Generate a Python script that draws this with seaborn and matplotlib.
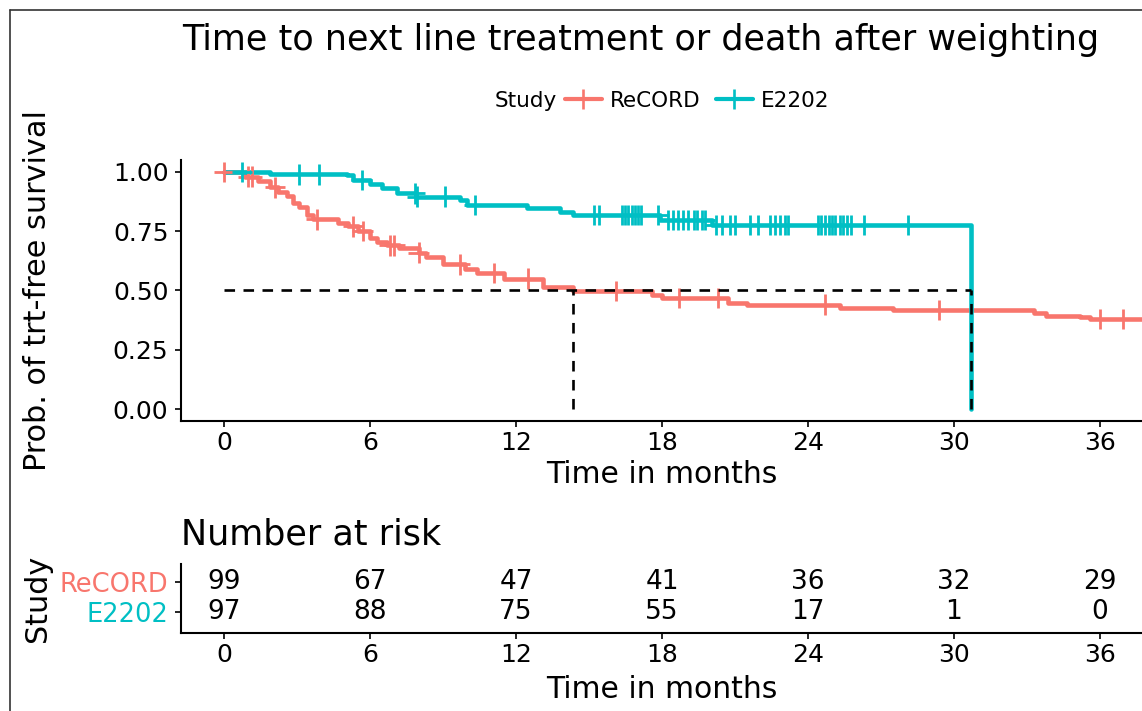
import numpy as np
import pandas as pd
import seaborn as sns
import matplotlib.pyplot as plt
from matplotlib.lines import Line2D

RED = "#F8766D"
CYAN = "#00BFC4"

# Step curves (time in months, survival after the step)
record_time = [0, 0.86, 1.4, 1.9, 2.2, 2.6, 2.85, 3.1, 3.4, 3.65, 4.7, 5.1, 5.5, 6.0, 6.3, 6.7,
               7.2, 8.0, 8.3, 9.0, 9.9, 10.4, 11.5, 13.1, 14.35, 17.6, 18.0, 20.7, 21.5, 25.3,
               27.5, 33.3, 33.8, 35.2, 35.6, 38.0]
record_surv = [1.00, 0.98, 0.96, 0.935, 0.915, 0.90, 0.87, 0.85, 0.82, 0.80, 0.785, 0.77, 0.75,
               0.72, 0.705, 0.69, 0.68, 0.66, 0.64, 0.61, 0.59, 0.574, 0.55, 0.515, 0.498, 0.48,
               0.468, 0.447, 0.44, 0.425, 0.418, 0.405, 0.392, 0.388, 0.38, 0.38]
e2202_time = [0, 1.9, 5.05, 5.3, 6.0, 6.5, 7.1, 7.9, 9.7, 10.0, 12.45, 13.8, 14.35, 17.9, 20.05, 30.7]
e2202_surv = [1.00, 0.99, 0.985, 0.965, 0.95, 0.93, 0.91, 0.895, 0.88, 0.86, 0.848, 0.83, 0.818,
              0.797, 0.776, 0.0]

# Censoring times
record_censor = [0, 1.0, 1.15, 2.1, 3.8, 5.3, 5.7, 6.8, 7.0, 8.0, 9.7, 11.1, 12.5, 16.1, 18.7,
                 20.3, 24.7, 29.4, 36.0, 36.95]
e2202_censor = [0.74, 3.1, 3.9, 5.65, 7.85, 7.95, 9.1, 10.3, 15.2, 15.4, 16.35, 16.5, 16.6, 16.75,
                16.9, 17.0, 17.15, 17.85, 18.25, 18.45, 18.65, 18.85, 19.05, 19.3, 19.45, 19.65,
                19.75, 20.2, 20.45, 20.8, 21.0, 21.6, 21.95, 22.45, 22.65, 22.85, 23.05, 23.2,
                24.4, 24.55, 24.7, 24.85, 25.0, 25.1, 25.3, 25.45, 25.6, 25.75, 26.3, 28.1]

median_record = 14.35
median_e2202 = 30.7

studies = ["ReCORD", "E2202"]
risk_times = [0, 6, 12, 18, 24, 30, 36]
record_risk = [99, 67, 47, 41, 36, 32, 29]
e2202_risk = [97, 88, 75, 55, 17, 1, 0]


def surv_at(times, survs, t):
    idx = np.searchsorted(times, t, side="right") - 1
    return np.asarray(survs)[idx]


curves = pd.concat([
    pd.DataFrame({"Time": record_time, "Surv": record_surv, "Study": "ReCORD"}),
    pd.DataFrame({"Time": e2202_time, "Surv": e2202_surv, "Study": "E2202"}),
])
censors = pd.concat([
    pd.DataFrame({"Time": record_censor, "Surv": surv_at(record_time, record_surv, record_censor),
                  "Study": "ReCORD"}),
    pd.DataFrame({"Time": e2202_censor, "Surv": surv_at(e2202_time, e2202_surv, e2202_censor),
                  "Study": "E2202"}),
])
palette = {"ReCORD": RED, "E2202": CYAN}

sns.set_theme(style="ticks")
plt.rcParams["font.family"] = ["DejaVu Sans"]
plt.rcParams["text.color"] = "black"
plt.rcParams["axes.labelcolor"] = "black"

W, H = 1142, 711
fig = plt.figure(figsize=(W / 100, H / 100), dpi=100)

ax = fig.add_axes([181 / W, 1 - 421 / H, 961 / W, 261 / H])
ax2 = fig.add_axes([181 / W, 1 - 633 / H, 961 / W, 69 / H])

# Survival curves
sns.lineplot(data=curves, x="Time", y="Surv", hue="Study", palette=palette, estimator=None,
             sort=False, drawstyle="steps-post", linewidth=3.3, legend=False, ax=ax)
sns.scatterplot(data=censors, x="Time", y="Surv", hue="Study", palette=palette, marker="+",
                s=220, linewidth=2.0, legend=False, ax=ax, zorder=3)

# Median lines
ax.hlines(0.5, 0, max(median_record, median_e2202), colors="black", linestyles=(0, (4, 3.2)),
          linewidth=1.9, zorder=4)
ax.vlines([median_record, median_e2202], 0, 0.5, colors="black", linestyles=(0, (4, 3.2)),
          linewidth=1.9, zorder=4)

xlim = (-1.77, 37.73)
ax.set_xlim(*xlim)
ax.set_ylim(-0.05, 1.05)
ax.set_xticks(risk_times)
ax.set_yticks([0, 0.25, 0.5, 0.75, 1.0])
ax.set_yticklabels(["0.00", "0.25", "0.50", "0.75", "1.00"])
ax.set_xlabel("Time in months", fontsize=21.5, labelpad=4)
ax.set_ylabel("Prob. of trt-free survival", fontsize=21.8)
ax.yaxis.set_label_coords(-0.134, 0.5)

# Risk table
for t, n in zip(risk_times, record_risk):
    ax2.text(t, 2, str(n), ha="center", va="center", fontsize=19, color="black")
for t, n in zip(risk_times, e2202_risk):
    ax2.text(t, 1, str(n), ha="center", va="center", fontsize=19, color="black")
ax2.set_xlim(*xlim)
ax2.set_ylim(0.3, 2.6)
ax2.set_xticks(risk_times)
ax2.set_yticks([2, 1])
ax2.set_yticklabels(studies)
ax2.set_xlabel("Time in months", fontsize=21.5, labelpad=6)
ax2.set_ylabel("Study", fontsize=21.8)
ax2.yaxis.set_label_coords(-0.134, 0.5)
ax2.set_title("Number at risk", loc="left", fontsize=25.2, pad=14)

for a in (ax, ax2):
    sns.despine(ax=a)
    for sp in ("left", "bottom"):
        a.spines[sp].set_linewidth(1.5)
        a.spines[sp].set_color("black")
    a.tick_params(axis="both", direction="out", length=4, width=1.2, labelsize=18,
                  colors="black", pad=3)
    a.tick_params(axis="y", pad=5)
ax2.tick_params(axis="y", labelsize=18.5)
for lab, s in zip(ax2.get_yticklabels(), studies):
    lab.set_color(palette[s])

# Legend
handles = [Line2D([0], [0], color=palette[s], lw=3.0, marker="+", markersize=14, mew=1.9)
           for s in studies]
fig.legend(handles, studies, ncol=2, frameon=False, loc="center left",
           bbox_to_anchor=(565 / W, 1 - 101 / H), fontsize=15.5, handlelength=1.7,
           columnspacing=0.7, handletextpad=0.4, borderaxespad=0, borderpad=0)
fig.text(495 / W, 1 - 101 / H, "Study", ha="left", va="center", fontsize=15.5)

fig.text(641 / W, 1 - 40 / H, "Time to next line treatment or death after weighting",
         ha="center", va="center", fontsize=25.2)

# Frame around the figure
fig.add_artist(Line2D([10 / W, 10 / W], [0, 1 - 10 / H], color="#333333", lw=1.2))
fig.add_artist(Line2D([10 / W, 1], [1 - 10 / H, 1 - 10 / H], color="#333333", lw=1.2))

fig.savefig("out.png", dpi=100)
